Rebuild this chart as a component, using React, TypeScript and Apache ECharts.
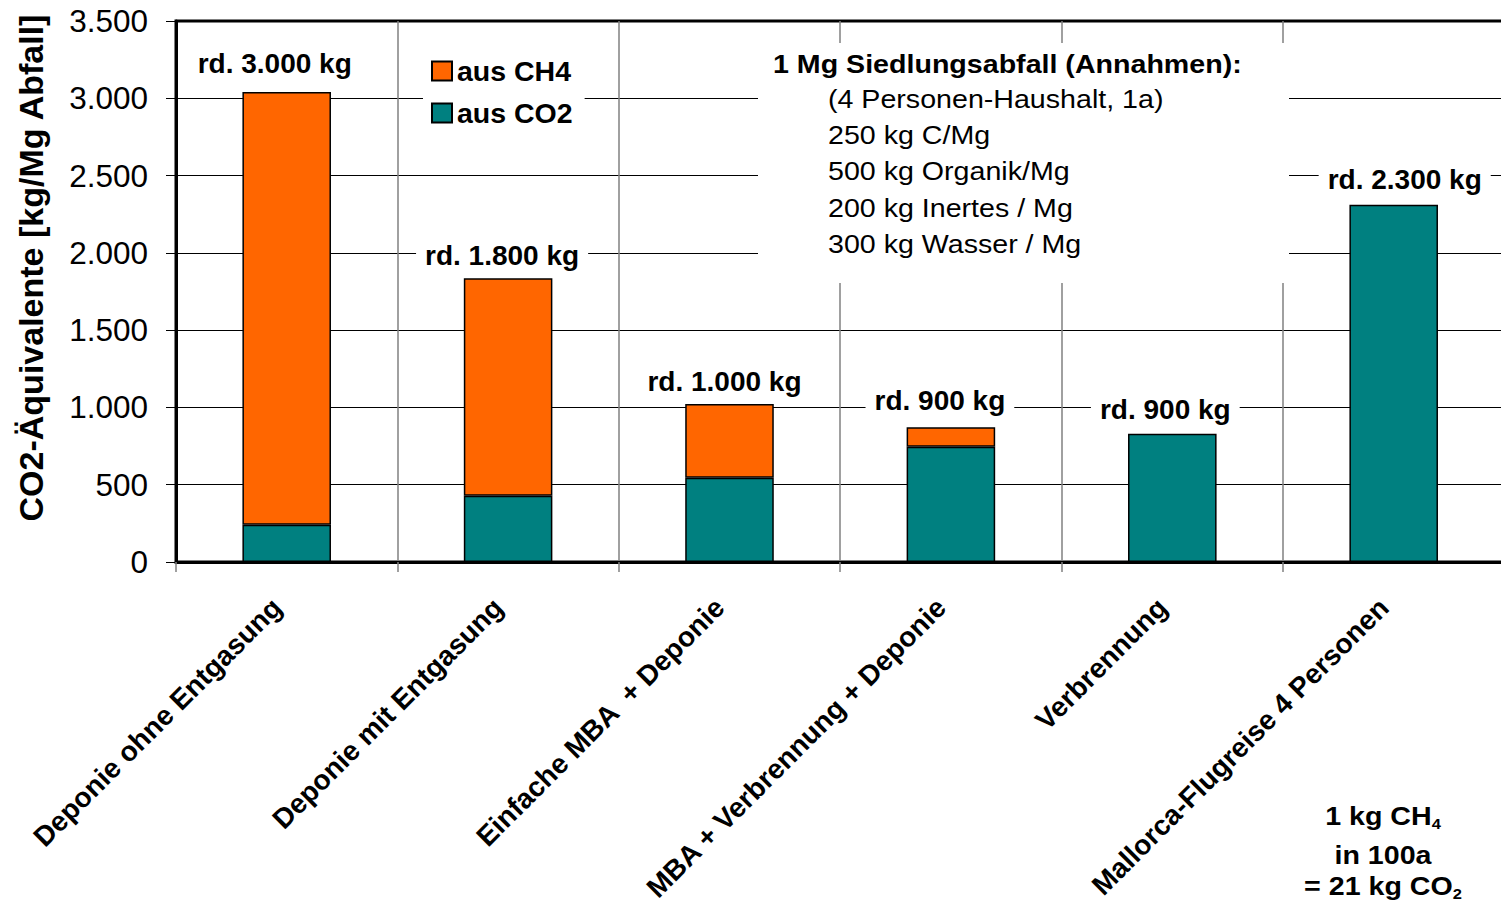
import React, { useEffect, useRef } from "react";
import * as echarts from "echarts";

const categories = [
  "Deponie ohne Entgasung",
  "Deponie mit Entgasung",
  "Einfache MBA  + Deponie",
  "MBA + Verbrennung + Deponie",
  "Verbrennung",
  "Mallorca-Flugreise 4 Personen",
];
const co2Values = [241, 429, 545, 746, 830, 2311];
const ch4Values = [2799, 1406, 477, 125, 0, 0];
const totalLabels = ["rd. 3.000 kg", "rd. 1.800 kg", "rd. 1.000 kg", "rd. 900 kg", "rd. 900 kg", "rd. 2.300 kg"];
const yTicks = { min: 0, max: 3500, interval: 500 };
const legendNames = ["aus CH4", "aus CO2"];
const noteTitle = "1 Mg Siedlungsabfall (Annahmen):";
const noteLines = [
  "(4 Personen-Haushalt, 1a)",
  "250 kg C/Mg",
  "500 kg Organik/Mg",
  "200 kg Inertes / Mg",
  "300 kg Wasser / Mg",
];

// layout nudges for the "rd." labels (pixels)
const labelNudge: [number, number][] = [
  [-12, -8],
  [-6, -2],
  [-5, -2],
  [-11, -6],
  [-7, -3],
  [11, -4],
];

const FONT = "'Liberation Sans', Arial, sans-serif";

function fmt(v: number) {
  return String(v).replace(/\B(?=(\d{3})+(?!\d))/g, ".");
}

function mkLabel(i: number) {
  return {
    show: true,
    position: "top",
    distance: 5,
    formatter: totalLabels[i],
    offset: labelNudge[i],
    backgroundColor: "#fff",
    padding: [2, 9],
    color: "#000",
    fontSize: 28,
    fontWeight: "bold",
    fontFamily: FONT,
  };
}

export default function App() {
  const ref = useRef<HTMLDivElement>(null);
  useEffect(() => {
    if (!ref.current) return;
    const chart = echarts.init(ref.current, null, { renderer: "svg" });
    const barStyle = { borderColor: "#000", borderWidth: 1.5 };
    const textBase = { fontFamily: FONT, fill: "#000" };
    const graphics: any[] = [
      {
        type: "rect",
        z: 100,
        shape: { x: 758, y: 43, width: 531, height: 240 },
        style: { fill: "#fff" },
      },
      {
        type: "text",
        z: 101,
        x: 773,
        y: 64,
        scaleX: 1.1,
        style: { ...textBase, text: noteTitle, fontSize: 26, fontWeight: "bold", align: "left", verticalAlign: "middle" },
      },
      ...noteLines.map((t, k) => ({
        type: "text",
        z: 101,
        x: 828,
        y: 99 + 36.2 * k,
        scaleX: 1.1,
        style: { ...textBase, text: t, fontSize: 26, align: "left", verticalAlign: "middle" },
      })),
    ];
    const rich = {
      a: { fontSize: 26, fontWeight: "bold", lineHeight: 30, fontFamily: FONT, color: "#000" },
      b: { fontSize: 15, fontWeight: "bold", lineHeight: 14, verticalAlign: "bottom", fontFamily: FONT, color: "#000" },
    };
    const eqLines = [
      { t: "{a|1 kg CH}{b|4}", y: 816 },
      { t: "{a|in 100a}", y: 855 },
      { t: "{a|= 21 kg CO}{b|2}", y: 886 },
    ];
    eqLines.forEach((l) =>
      graphics.push({
        type: "text",
        z: 101,
        x: 1383,
        y: l.y,
        scaleX: 1.1,
        style: { ...textBase, text: l.t, rich, align: "center", verticalAlign: "middle" },
      })
    );

    chart.setOption({
      animation: false,
      textStyle: { fontFamily: FONT },
      grid: {
        left: 176,
        top: 21,
        right: -3.4,
        bottom: 347,
        containLabel: false,
        outerBoundsMode: "none",
        show: true,
        borderColor: "#000",
        borderWidth: 3,
      },
      legend: {
        data: legendNames,
        orient: "vertical",
        left: 423,
        top: 48,
        padding: [8, 12, 8, 8],
        itemGap: 12,
        itemWidth: 20,
        itemHeight: 19,
        backgroundColor: "#fff",
        icon: "rect",
        textStyle: { fontSize: 28.5, fontWeight: "bold", color: "#000", lineHeight: 30, fontFamily: FONT },
      },
      xAxis: {
        type: "category",
        data: categories,
        boundaryGap: true,
        axisLine: { show: true, lineStyle: { color: "#000", width: 3 } },
        axisTick: { show: true, length: 10, lineStyle: { color: "#808080", width: 1.5 } },
        splitLine: { show: true, lineStyle: { color: "#808080", width: 1.5 } },
        axisLabel: {
          interval: 0,
          rotate: 45,
          margin: 31,
          fontSize: 28,
          fontWeight: "bold",
          color: "#000",
          fontFamily: FONT,
          padding: [0, 14, 0, 0],
        },
      },
      yAxis: {
        type: "value",
        min: yTicks.min,
        max: yTicks.max,
        interval: yTicks.interval,
        name: "CO2-Äquivalente [kg/Mg Abfall]",
        nameLocation: "middle",
        nameGap: 128,
        nameTextStyle: {
          fontSize: 34,
          fontWeight: "bold",
          color: "#000",
          fontFamily: FONT,
          padding: [0, 0, 0, 47],
        },
        axisLine: { show: true, lineStyle: { color: "#000", width: 3 } },
        axisTick: { show: true, length: 10, lineStyle: { color: "#000", width: 1 } },
        splitLine: { show: true, lineStyle: { color: "#000", width: 1 } },
        axisLabel: {
          margin: 28,
          fontSize: 31.5,
          color: "#000",
          fontFamily: FONT,
          formatter: (v: number) => fmt(v),
        },
      },
      graphic: graphics,
      series: [
        {
          name: "aus CO2",
          type: "bar",
          stack: "total",
          barCategoryGap: "60%",
          itemStyle: { color: "#008080", ...barStyle },
          data: co2Values.map((v, i) => (ch4Values[i] > 0 ? v : { value: v, label: mkLabel(i) })),
        },
        {
          name: "aus CH4",
          type: "bar",
          stack: "total",
          barCategoryGap: "60%",
          itemStyle: { color: "#FF6600", ...barStyle },
          data: ch4Values.map((v, i) => (v > 0 ? { value: v, label: mkLabel(i) } : "-")),
        },
      ],
    });
    return () => chart.dispose();
  }, []);
  return <div ref={ref} style={{ position: "absolute", left: 0, top: 0, width: 1501, height: 909 }} />;
}
